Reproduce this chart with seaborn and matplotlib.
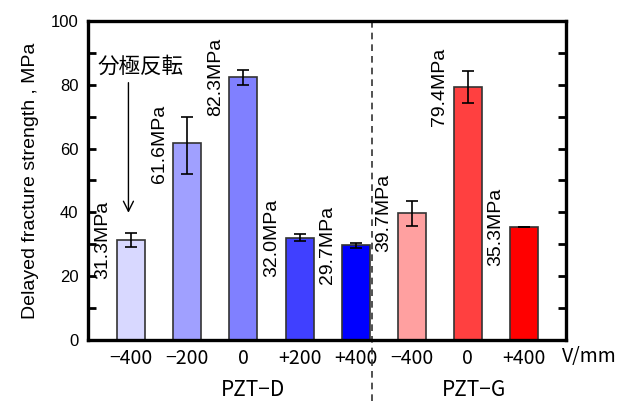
import numpy as np
import pandas as pd
import seaborn as sns
import matplotlib.pyplot as plt
from matplotlib.ticker import MultipleLocator

# data
voltages = ["−400", "−200", "0", "+200", "+400", "−400", "0", "+400"]
groups = ["PZT-D"] * 5 + ["PZT-G"] * 3
strength = [31.3, 61.6, 82.3, 32.0, 29.7, 39.7, 79.4, 35.3]
err_low = [2.2, 9.6, 2.4, 1.1, 0.8, 3.9, 5.0, 0.0]
err_high = [2.2, 8.4, 2.4, 1.1, 0.8, 3.9, 5.0, 0.0]
colors = ["#d8d8ff", "#a0a0ff", "#8080ff", "#4040ff", "#0000ff",
          "#ffa0a0", "#ff4040", "#ff0000"]

sns.set_style("ticks")
plt.rcParams['font.family'] = ['Liberation Sans', 'Noto Sans CJK JP', 'DejaVu Sans']
plt.rcParams['text.color'] = 'black'
plt.rcParams['axes.labelcolor'] = 'black'
plt.rcParams['xtick.color'] = 'black'
plt.rcParams['ytick.color'] = 'black'
jp = ['Noto Sans CJK JP', 'Liberation Sans']

df = pd.DataFrame({"bar": [str(i) for i in range(len(strength))],
                   "strength": strength, "group": groups})

fig = plt.figure(figsize=(6.2, 4.01), dpi=100)
ax = fig.add_axes([0.142, 0.152, 0.771, 0.796])

sns.barplot(data=df, x="bar", y="strength", hue="bar", palette=colors,
            saturation=1, legend=False, errorbar=None, width=0.5,
            edgecolor="#333333", linewidth=1.2, ax=ax)

pos = np.arange(len(strength))
ax.errorbar(pos, strength, yerr=[err_low, err_high], fmt="none",
            ecolor="black", elinewidth=1.2, capsize=4, capthick=1.2)

for x, v in zip(pos, strength):
    ax.text(x - 0.5, v, f"{v:.1f}MPa", rotation=90, ha="center",
            va="center", fontsize=14)

ax.set_xlim(-0.77, 7.75)
ax.set_ylim(0, 100)
ax.yaxis.set_major_locator(MultipleLocator(20))
ax.yaxis.set_minor_locator(MultipleLocator(10))
ax.set_xticks(pos)
ax.set_xticklabels(voltages, family=jp, fontsize=14)
ax.tick_params(axis="x", length=0, pad=6)
ax.tick_params(axis="y", which="both", direction="in", right=True,
               length=6, width=2, labelsize=12, pad=7)
ax.set_xlabel("")
ax.set_ylabel("Delayed fracture strength , MPa", fontsize=14, labelpad=8)
for s in ax.spines.values():
    s.set_visible(True)
    s.set_linewidth(2.4)
    s.set_color("black")

# divider between the two materials
ax.plot([4.3, 4.3], [1, -0.2], transform=ax.get_xaxis_transform(),
        color="#333333", ls=(0, (4, 3)), lw=1.2, clip_on=False)

ax.text(2.17, -15.7, "PZT−D", ha="center", va="center", family=jp, fontsize=15, clip_on=False)
ax.text(6.11, -15.7, "PZT−G", ha="center", va="center", family=jp, fontsize=15, clip_on=False)
ax.text(8.16, -5.3, "V/mm", ha="center", va="center", family=jp, fontsize=14, clip_on=False)

ax.annotate("", xy=(-0.05, 39.0), xytext=(-0.05, 81.5),
            arrowprops=dict(arrowstyle="->", color="black", lw=1.0,
                            mutation_scale=18))
ax.text(0.16, 85.7, "分極反転", ha="center", va="center", family=jp, fontsize=15.5)

plt.savefig("out.png", dpi=100)
